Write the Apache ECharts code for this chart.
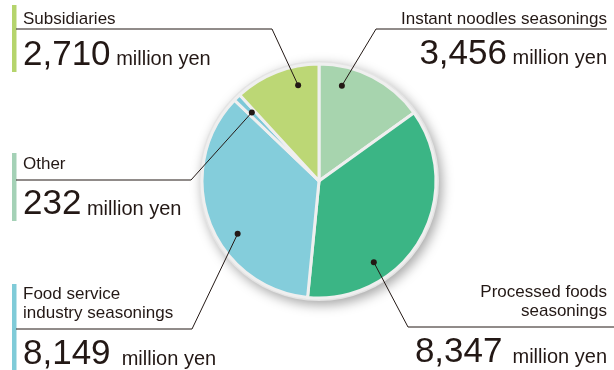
<!DOCTYPE html>
<html><head><meta charset="utf-8">
<script src="https://cdn.jsdelivr.net/npm/echarts@6/dist/echarts.min.js"></script>
<style>html,body{margin:0;padding:0;background:#fff}#c{width:614px;height:370px}</style>
</head><body><div id="c"></div>
<script>
// ---- data ----
const categories = ['Instant noodles seasonings', 'Processed foods\nseasonings', 'Food service\nindustry seasonings', 'Other', 'Subsidiaries'];
const values = [3456, 8347, 8149, 232, 2710];
const unitLabel = 'million yen';

// ---- style / layout ----
const sliceColors = ['#a7d4ae', '#3bb585', '#84cddb', '#7cc8d8', '#bcd775'];
const FONT = '"Liberation Sans", Arial, Helvetica, sans-serif';
const INK = '#231815';
const CX = 319, CY = 181, R = 117;
const labelCfg = [
  {side:'right', tx:607, nameTop:9.7,   numTop:31.5,  dotA:13.5,  dotR:98, elbow:[376,29],  end:[607,29],  extra:0},
  {side:'right', tx:607, nameTop:283.2, numTop:330,   dotA:146,   dotR:98, elbow:[408,327], end:[614,327], extra:4.5},
  {side:'left',  tx:23,  nameTop:285.2, numTop:332,   dotA:237,   dotR:97, elbow:[192,329], end:[16,329],  extra:5.5},
  {side:'left',  tx:23,  nameTop:155.2, numTop:182,   dotA:315.6, dotR:96, elbow:[191,180], end:[16,180],  extra:0},
  {side:'left',  tx:23,  nameTop:9.7,   numTop:32.5,  dotA:347.7, dotR:98, elbow:[272,29],  end:[16,29],   extra:0}
];
const bars = [
  {y:5,   h:67, color:'#b5d46c'},
  {y:153, h:68, color:'#a4d1b6'},
  {y:284, h:86, color:'#7fcbd8'}
];

function dotPos(c) {
  const a = c.dotA * Math.PI / 180;
  return [CX + c.dotR * Math.sin(a), CY - c.dotR * Math.cos(a)];
}
const fmt = v => v.toLocaleString('en-US');
const pieData = categories.map((n, i) => ({name: n, value: values[i], itemStyle: {color: sliceColors[i]}}));
const ghostData = categories.map((n, i) => ({name: n, value: values[i]}));

const common = {
  type: 'pie', center: [CX, CY], radius: R, startAngle: 90, clockwise: true,
  avoidLabelOverlap: false, animation: false, silent: true
};
const ghost = {itemStyle: {color: 'rgba(0,0,0,0)', borderWidth: 0}, data: ghostData};

const chart = echarts.init(document.getElementById('c'), null, {renderer: 'canvas'});
chart.setOption({
  animation: false,
  graphic: bars.map(b => ({type:'rect', shape:{x:12, y:b.y, width:4.5, height:b.h}, style:{fill:b.color}, silent:true})),
  series: [
    { // rim + shadow
      type: 'pie', center: [CX, CY], radius: 120, silent: true, z: 1, animation: false,
      label: {show: false}, labelLine: {show: false},
      data: [{value: 1, itemStyle: {color: '#e4e4e4', shadowBlur: 12, shadowOffsetX: 3, shadowOffsetY: 4, shadowColor: 'rgba(0,0,0,0.35)'}}]
    },
    Object.assign({}, common, { // slices
      z: 2,
      itemStyle: {borderColor: '#efefef', borderWidth: 3},
      label: {show: false}, labelLine: {show: false},
      data: pieData
    }),
    Object.assign({}, common, ghost, { // name labels + leader lines
      z: 3,
      label: {show: true, position: 'outside', formatter: '{b}', color: INK, fontFamily: FONT, fontSize: 17, lineHeight: 19},
      labelLine: {show: true, smooth: false, length: 10, length2: 10, lineStyle: {color: INK, width: 1}},
      labelLayout: function (p) {
        const c = labelCfg[p.dataIndex];
        return {x: c.tx, y: c.nameTop, align: c.side, verticalAlign: 'top', labelLinePoints: [dotPos(c), c.elbow, c.end]};
      }
    }),
    Object.assign({}, common, ghost, { // value labels
      z: 4,
      label: {
        show: true, position: 'outside',
        formatter: function (p) {
          const c = labelCfg[p.dataIndex];
          return '{num|' + fmt(values[p.dataIndex]) + '}' + (c.extra ? '{sp' + p.dataIndex + '| }' : '') + '{unit| ' + unitLabel + '}';
        },
        rich: Object.assign({
          num: {fontFamily: FONT, fontSize: 35, color: INK, lineHeight: 40, height: 35, verticalAlign: 'bottom'},
          unit: {fontFamily: FONT, fontSize: 20, color: INK, lineHeight: 40, height: 26, verticalAlign: 'bottom'}
        }, Object.fromEntries(labelCfg.map((c, i) => ['sp' + i, {width: c.extra || 1, fontSize: 2, height: 2, lineHeight: 40, verticalAlign: 'bottom'}])))
      },
      labelLine: {show: false},
      labelLayout: function (p) {
        const c = labelCfg[p.dataIndex];
        return {x: c.tx, y: c.numTop, align: c.side, verticalAlign: 'top'};
      }
    }),
    Object.assign({}, common, ghost, { // anchor dots
      z: 5,
      label: {show: true, position: 'outside', formatter: ' ', fontSize: 2, width: 6, height: 6, padding: 0, borderRadius: 3, backgroundColor: INK},
      labelLine: {show: false},
      labelLayout: function (p) {
        const d = dotPos(labelCfg[p.dataIndex]);
        return {x: d[0], y: d[1], align: 'center', verticalAlign: 'middle'};
      }
    })
  ]
});
</script>
</body></html>
